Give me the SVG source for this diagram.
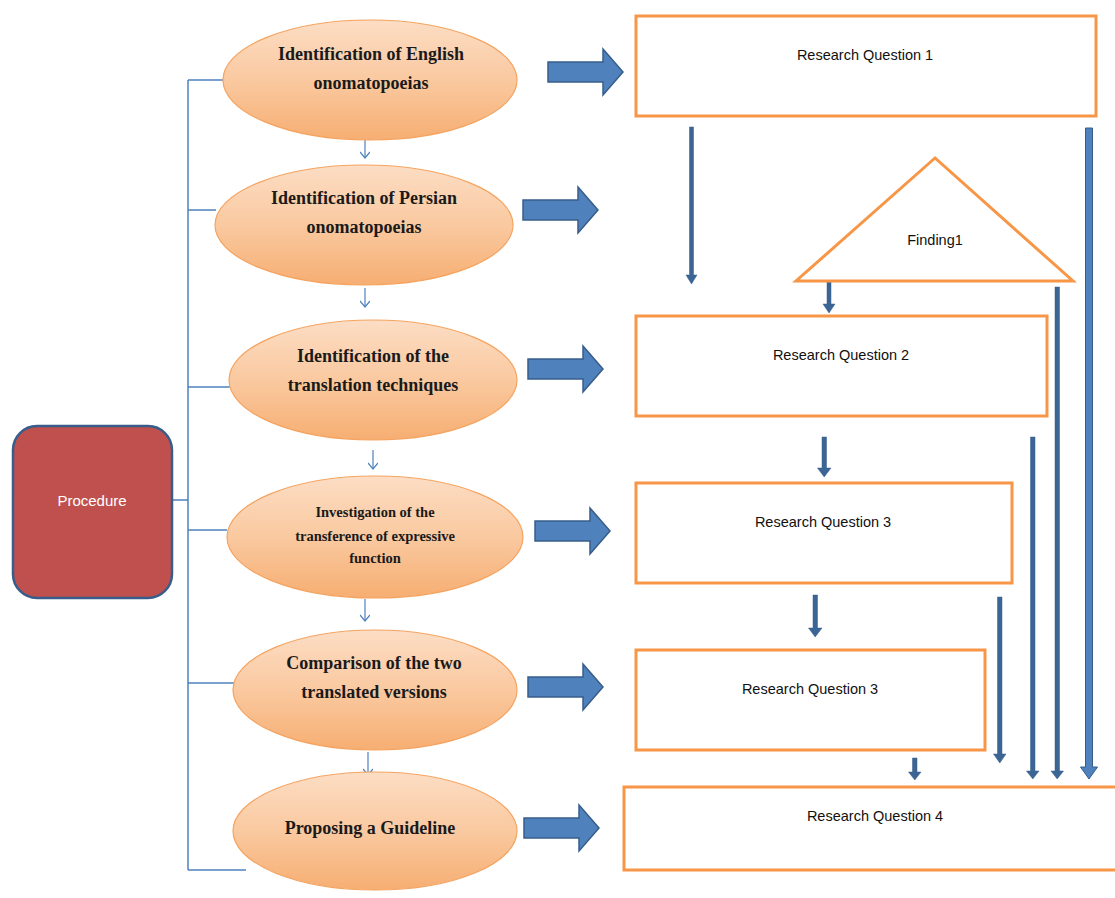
<svg xmlns="http://www.w3.org/2000/svg" width="1115" height="898" viewBox="0 0 1115 898">
<defs>
<linearGradient id="peach" x1="0" y1="0" x2="0" y2="1">
<stop offset="0" stop-color="#FCDDC4"/>
<stop offset="0.5" stop-color="#FAC9A0"/>
<stop offset="1" stop-color="#F6AE72"/>
</linearGradient>
<path id="barrow" d="M0,-10 H55 V-23 L75,0 L55,23 V10 H0 Z" fill="#4F81BD" stroke="#385D8A" stroke-width="1.5"/>
<marker id="thin" viewBox="0 0 10 10" refX="9" refY="5" markerWidth="10" markerHeight="10" markerUnits="userSpaceOnUse" orient="auto">
<path d="M3,0 L9,5 L3,10" fill="none" stroke="#4F81BD" stroke-width="1.2"/>
</marker>
</defs>
<style>
.ell{fill:url(#peach);stroke:#F5A35F;stroke-width:1.2}
.et{font-family:"Liberation Serif",serif;font-weight:bold;font-size:18px;fill:#1a1a1a;text-anchor:middle}
.et2{font-size:14.5px}
.rq{fill:#fff;stroke:#F79646;stroke-width:3}
.rt{font-family:"Liberation Sans",Arial,sans-serif;font-size:14.5px;fill:#111;text-anchor:middle}
.br{fill:none;stroke:#4F81BD;stroke-width:1.5}
.sm{stroke:#4F81BD;stroke-width:1.2;marker-end:url(#thin)}
.va{fill:#3A6594;stroke:#385D8A;stroke-width:0.5}
</style>
<rect width="1115" height="898" fill="#fff"/>

<g id="connectors">
<path class="br" d="M188,80 V870 M173,500 H188 M188,80 H224 M188,210 H216 M188,387 H231 M188,530 H227 M188,683 H234 M188,870 H246"/>
<line class="sm" x1="365" y1="140" x2="365" y2="158"/>
<line class="sm" x1="365" y1="288" x2="365" y2="307"/>
<line class="sm" x1="373" y1="450" x2="373" y2="469"/>
<line class="sm" x1="365" y1="599" x2="365" y2="621"/>
<line class="sm" x1="368" y1="752" x2="368" y2="775"/>
<use href="#barrow" transform="translate(548,72)"/>
<use href="#barrow" transform="translate(523,210)"/>
<use href="#barrow" transform="translate(528,369)"/>
<use href="#barrow" transform="translate(535,531)"/>
<use href="#barrow" transform="translate(528,687)"/>
<use href="#barrow" transform="translate(524,828)"/>
<path class="va" d="M689.5,127 H693.5 V275 H697 L691.5,284 L686,275 H689.5 Z"/>
<path class="va" d="M827,281 H831 V304 H835 L829,313 L823,304 H827 Z"/>
<path class="va" d="M822,437 H826.5 V468 H831 L824.2,477 L817.5,468 H822 Z"/>
<path class="va" d="M813,595 H817.5 V628 H822 L815.2,637 L808.5,628 H813 Z"/>
<path class="va" d="M912.5,758 H917 V772 H921 L914.8,780 L908.5,772 H912.5 Z"/>
<path class="va" d="M997.5,597 H1002 V754 H1006 L999.8,763 L993.5,754 H997.5 Z"/>
<path class="va" d="M1030.5,437 H1035 V771 H1039 L1032.8,779 L1026.5,771 H1030.5 Z"/>
<path class="va" d="M1055,287 H1059.5 V771 H1063.5 L1057.2,779 L1051,771 H1055 Z"/>
<path fill="#4F81BD" stroke="#385D8A" stroke-width="1" d="M1085.5,128 H1092.5 V767 H1097.5 L1089,779 L1080.5,767 H1085.5 Z"/>
</g>

<g id="procedure">
<rect x="13" y="426" width="159" height="172" rx="24" fill="#C0504D" stroke="#385D8A" stroke-width="2.5"/>
<text x="92" y="506" font-family="Liberation Sans,Arial,sans-serif" font-size="15" fill="#fff" text-anchor="middle">Procedure</text>
</g>

<g id="step1">
<ellipse class="ell" cx="370" cy="80" rx="147" ry="60"/>
<text class="et" x="371" y="60">Identification of English</text>
<text class="et" x="371" y="89">onomatopoeias</text>
</g>
<g id="step2">
<ellipse class="ell" cx="364" cy="225" rx="149" ry="60"/>
<text class="et" x="364" y="204">Identification of Persian</text>
<text class="et" x="364" y="233">onomatopoeias</text>
</g>
<g id="step3">
<ellipse class="ell" cx="373" cy="380" rx="144" ry="60"/>
<text class="et" x="373" y="362">Identification of the</text>
<text class="et" x="373" y="391">translation techniques</text>
</g>
<g id="step4">
<ellipse class="ell" cx="375" cy="537" rx="148" ry="61"/>
<text class="et et2" x="375" y="517">Investigation of the</text>
<text class="et et2" x="375" y="541">transference of expressive</text>
<text class="et et2" x="375" y="563">function</text>
</g>
<g id="step5">
<ellipse class="ell" cx="375" cy="690" rx="142" ry="60"/>
<text class="et" x="374" y="669">Comparison of the two</text>
<text class="et" x="374" y="698">translated versions</text>
</g>
<g id="step6">
<ellipse class="ell" cx="375" cy="831" rx="142" ry="59"/>
<text class="et" x="370" y="834">Proposing a Guideline</text>
</g>

<g id="rq1">
<rect class="rq" x="636" y="16" width="460" height="100"/>
<text class="rt" x="865" y="60">Research Question 1</text>
</g>
<g id="finding1">
<polygon points="935,158 796,281 1073,281" fill="#fff" stroke="#F79646" stroke-width="3" stroke-linejoin="miter"/>
<text class="rt" x="935" y="245">Finding1</text>
</g>
<g id="rq2">
<rect class="rq" x="636" y="316" width="411" height="100"/>
<text class="rt" x="841" y="360">Research Question 2</text>
</g>
<g id="rq3">
<rect class="rq" x="636" y="483" width="376" height="100"/>
<text class="rt" x="823" y="527">Research Question 3</text>
</g>
<g id="rq3b">
<rect class="rq" x="636" y="650" width="349" height="100"/>
<text class="rt" x="810" y="694">Research Question 3</text>
</g>
<g id="rq4">
<rect class="rq" x="624" y="787" width="500" height="83"/>
<text class="rt" x="875" y="821">Research Question 4</text>
</g>
</svg>
